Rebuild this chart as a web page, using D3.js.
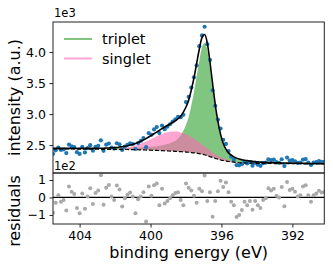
<!DOCTYPE html>
<html><head><meta charset="utf-8">
<script src="https://cdn.jsdelivr.net/npm/d3@7"></script>
<style>body{margin:0;background:#fff} svg{display:block} text{font-family:"DejaVu Sans",sans-serif;fill:#000}</style>
</head><body><svg id="c" width="333" height="268"></svg>
<script>
const energy = [405.50,405.35,405.20,405.05,404.90,404.75,404.60,404.45,404.30,404.15,
404.00,403.85,403.70,403.55,403.40,403.25,403.10,402.95,402.80,402.65,
402.50,402.35,402.20,402.05,401.90,401.75,401.60,401.45,401.30,401.15,
401.00,400.85,400.70,400.55,400.40,400.25,400.10,399.95,399.80,399.65,
399.50,399.35,399.20,399.05,398.90,398.75,398.60,398.45,398.30,398.15,
398.00,397.85,397.70,397.55,397.40,397.25,397.10,396.95,396.80,396.65,
396.50,396.35,396.20,396.05,395.90,395.75,395.60,395.45,395.30,395.15,
395.00,394.85,394.70,394.55,394.40,394.25,394.10,393.95,393.80,393.65,
393.50,393.35,393.20,393.05,392.90,392.75,392.60,392.45,392.30,392.15,
392.00,391.85,391.70,391.55,391.40,391.25,391.10,390.95,390.80,390.65,
390.50,390.35,390.20];
// Shirley background (x1e3)
const background = [2.440,2.440,2.439,2.439,2.438,2.438,2.438,2.437,2.437,2.436,
2.436,2.436,2.435,2.435,2.434,2.434,2.434,2.433,2.433,2.432,
2.432,2.432,2.431,2.431,2.430,2.430,2.430,2.429,2.429,2.428,
2.428,2.426,2.425,2.423,2.422,2.420,2.418,2.417,2.415,2.414,
2.412,2.410,2.408,2.406,2.404,2.402,2.400,2.397,2.394,2.391,
2.388,2.385,2.380,2.375,2.370,2.362,2.353,2.345,2.330,2.315,
2.300,2.287,2.273,2.260,2.252,2.243,2.235,2.230,2.225,2.220,
2.215,2.214,2.212,2.211,2.210,2.208,2.207,2.205,2.205,2.204,
2.204,2.203,2.203,2.203,2.202,2.202,2.201,2.201,2.201,2.200,
2.200,2.199,2.199,2.199,2.198,2.198,2.197,2.197,2.197,2.196,
2.196,2.195,2.195];
// triplet component above background (x1e3)
const triplet = [0.007,0.007,0.008,0.008,0.008,0.009,0.009,0.009,0.010,0.010,
0.011,0.011,0.012,0.012,0.013,0.013,0.014,0.015,0.015,0.016,
0.017,0.018,0.019,0.020,0.021,0.023,0.024,0.025,0.027,0.029,
0.031,0.034,0.036,0.040,0.043,0.047,0.052,0.056,0.063,0.068,
0.077,0.086,0.097,0.110,0.126,0.147,0.172,0.210,0.260,0.340,
0.440,0.570,0.760,0.980,1.240,1.500,1.720,1.800,1.700,1.430,
1.110,0.800,0.550,0.370,0.240,0.165,0.120,0.092,0.074,0.062,
0.053,0.046,0.041,0.036,0.032,0.029,0.026,0.024,0.021,0.019,
0.018,0.016,0.015,0.014,0.013,0.012,0.011,0.011,0.010,0.009,
0.009,0.008,0.008,0.008,0.007,0.007,0.007,0.007,0.006,0.006,
0.006,0.005,0.005];
// singlet component above background (x1e3)
const singlet = [0,0,0,0,0,0,0,0,0,0,
0,0,0,0,0,0,0,0.001,0.002,0.002,
0.003,0.004,0.006,0.008,0.011,0.015,0.020,0.026,0.034,0.043,
0.054,0.067,0.082,0.099,0.118,0.138,0.160,0.183,0.205,0.228,
0.249,0.269,0.286,0.301,0.311,0.318,0.320,0.318,0.311,0.301,
0.286,0.269,0.249,0.228,0.205,0.183,0.160,0.138,0.118,0.099,
0.082,0.067,0.054,0.043,0.034,0.026,0.020,0.015,0.011,0.008,
0.006,0.004,0.003,0.002,0.002,0.001,0,0,0,0,
0,0,0,0,0,0,0,0,0,0,
0,0,0,0,0,0,0,0,0,0,
0,0,0];
// residuals (x1e2)
const residual = [-0.88,-0.31,0.13,-0.25,-0.15,-0.75,0.62,0.32,0.20,-0.60,
-0.90,0.23,-0.65,0.05,0.52,-0.38,0.25,0.40,1.27,-0.42,
0.55,0.72,0.05,-0.15,0.68,0.45,-0.52,-0.05,0.15,0.28,
0.05,-0.90,-0.10,0.05,0.30,-1.38,0.62,0.10,0.70,0.80,
-0.44,0.50,-0.35,-0.20,-0.05,0.12,0.25,0.30,-0.15,-0.44,
0.80,0.55,0.40,0.10,-0.30,0.50,0.35,1.25,-0.20,0.30,
-1.10,-0.20,0.35,0.95,0.60,0.85,0.30,-0.25,-0.45,-1.12,
-1.00,-0.72,-0.25,-0.45,-0.20,-0.70,-0.20,-0.45,-0.60,-0.15,
-0.05,0.52,0.40,0.50,0.10,0.00,0.60,-0.50,0.88,0.42,
0.50,0.32,0.05,0.12,0.62,0.70,0.12,-0.25,0.13,0.22,
0.38,0.28,0.30];
const xTicks = [404, 400, 396, 392];
const yTicks = [2.5, 3.0, 3.5, 4.0];
const rTicks = [-1, 0, 1];
const legendLabels = ["triplet", "singlet"];

const svg = d3.select("#c");
const L = 53, R = 324.3, T = 22, M = 173, B = 224;
const x = d3.scaleLinear().domain([405.5, 390.2]).range([L, R]);
const y = d3.scaleLinear().domain([2.05, 4.485]).range([M, T]);
const yr = d3.scaleLinear().domain([-1.52, 1.40]).range([B, M]);

const rows = energy.map((e, i) => {
  const fit = background[i] + triplet[i] + singlet[i];
  return {e, bg: background[i], t: triplet[i], s: singlet[i], r: residual[i], fit, obs: fit + residual[i] / 10};
});

const defs = svg.append("defs");
defs.append("clipPath").attr("id", "cm").append("rect").attr("x", L).attr("y", T).attr("width", R - L).attr("height", M - T);
defs.append("clipPath").attr("id", "cr").append("rect").attr("x", L).attr("y", M).attr("width", R - L).attr("height", B - M);

const green = "#2ca02c", pink = "#ff69b4";
const gm = svg.append("g").attr("clip-path", "url(#cm)");
const curve = d3.curveMonotoneX;
gm.append("path").datum(rows)
  .attr("d", d3.area().curve(curve).x(d => x(d.e)).y0(d => y(d.bg)).y1(d => y(d.bg + d.t)))
  .attr("fill", green).attr("fill-opacity", 0.6);
gm.append("path").datum(rows)
  .attr("d", d3.area().curve(curve).x(d => x(d.e)).y0(d => y(d.bg)).y1(d => y(d.bg + d.s)))
  .attr("fill", pink).attr("fill-opacity", 0.6);
gm.selectAll("circle").data(rows).join("circle")
  .attr("cx", d => x(d.e)).attr("cy", d => y(d.obs)).attr("r", 2.1).attr("fill", "#1f77b4");
gm.append("path").datum(rows)
  .attr("d", d3.line().curve(curve).x(d => x(d.e)).y(d => y(d.fit)))
  .attr("fill", "none").attr("stroke", "#000").attr("stroke-width", 1.6);
gm.append("path").datum(rows)
  .attr("d", d3.line().curve(curve).x(d => x(d.e)).y(d => y(d.bg)))
  .attr("fill", "none").attr("stroke", "#000").attr("stroke-width", 1.2).attr("stroke-dasharray", "4,2");

const gr = svg.append("g").attr("clip-path", "url(#cr)");
gr.append("line").attr("x1", L).attr("x2", R).attr("y1", yr(0)).attr("y2", yr(0)).attr("stroke", "#000").attr("stroke-width", 1.2);
gr.selectAll("circle").data(rows).join("circle")
  .attr("cx", d => x(d.e)).attr("cy", d => yr(d.r)).attr("r", 2).attr("fill", "#a9a9a9");

// frames
[[T, M], [M, B]].forEach(([a, b]) => {
  svg.append("rect").attr("x", L).attr("y", a).attr("width", R - L).attr("height", b - a)
    .attr("fill", "none").attr("stroke", "#222").attr("stroke-width", 1);
});

function styleAxis(g) {
  g.select(".domain").remove();
  g.selectAll(".tick line").attr("stroke", "#222");
  g.selectAll(".tick text").style("font-size", "12.5px").style("font-family", '"DejaVu Sans",sans-serif').attr("fill", "#000");
}
svg.append("g").attr("transform", `translate(${L},0)`)
  .call(d3.axisLeft(y).tickValues(yTicks).tickFormat(d3.format(".1f")).tickSize(3.5).tickPadding(3.5)).call(styleAxis);
svg.append("g").attr("transform", `translate(${L},0)`)
  .call(d3.axisLeft(yr).tickValues(rTicks).tickFormat(d => d < 0 ? "\u2212" + Math.abs(d) : String(d)).tickSize(3.5).tickPadding(3.5)).call(styleAxis);
svg.append("g").attr("transform", `translate(0,${B})`)
  .call(d3.axisBottom(x).tickValues(xTicks).tickFormat(d3.format("d")).tickSize(3.5).tickPadding(3.5)).call(styleAxis);

svg.append("text").attr("x", L + 1).attr("y", T - 5).style("font-size", "11.5px").text("1e3");
svg.append("text").attr("x", L + 1).attr("y", M - 3).style("font-size", "11.5px").text("1e2");

// legend
const legColors = [green, pink];
legendLabels.forEach((lab, i) => {
  const ly = 39 + i * 19.5;
  svg.append("line").attr("x1", 64).attr("x2", 92).attr("y1", ly).attr("y2", ly)
    .attr("stroke", legColors[i]).attr("stroke-opacity", 0.6).attr("stroke-width", 2);
  svg.append("text").attr("x", 102).attr("y", ly).attr("dy", "0.35em").style("font-size", "14.5px").text(lab);
});

svg.append("text").attr("transform", `translate(${(L + R) / 2},258)`).attr("text-anchor", "middle")
  .style("font-size", "16px").text("binding energy (eV)");
svg.append("text").attr("transform", `translate(20,${(T + M) / 2}) rotate(-90)`).attr("text-anchor", "middle")
  .style("font-size", "16px").text("intensity (a.u.)");
svg.append("text").attr("transform", `translate(20,211) rotate(-90)`).attr("text-anchor", "middle")
  .style("font-size", "16px").text("residuals");
</script></body></html>
